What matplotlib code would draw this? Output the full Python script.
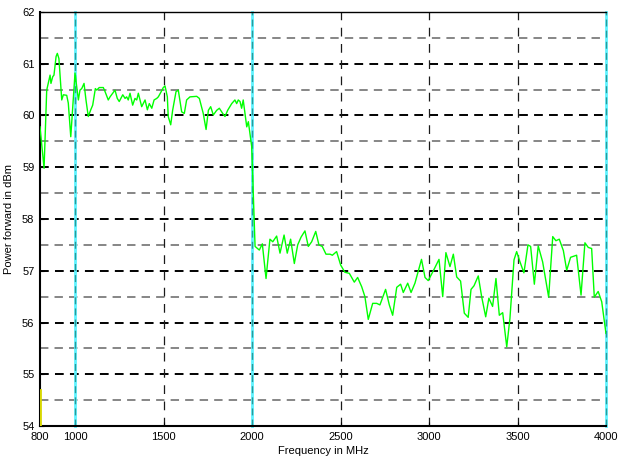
import numpy as np
import matplotlib
matplotlib.use("Agg")
import matplotlib.pyplot as plt

plt.rcParams.update({"font.family": ["Liberation Sans Narrow", "Liberation Sans", "DejaVu Sans"], "font.size": 8})

# measured trace (frequency in MHz, power in dBm)
freq = [800, 823, 838, 857, 862, 872, 879, 891, 898, 907, 923, 932, 951, 960, 974, 983,
        998, 1017, 1026, 1036, 1049, 1060, 1073, 1087, 1098, 1113, 1121, 1135, 1158, 1168,
        1186, 1196, 1224, 1237, 1248, 1268, 1281, 1290, 1299, 1309, 1324, 1337, 1347, 1356,
        1375, 1384, 1394, 1407, 1418, 1432, 1445, 1460, 1469, 1482, 1497, 1507, 1520, 1525,
        1539, 1550, 1569, 1582, 1592, 1601, 1616, 1629, 1648, 1686, 1701, 1723, 1739, 1752,
        1765, 1780, 1799, 1814, 1833, 1846, 1861, 1884, 1902, 1912, 1921, 1931, 1940, 1949,
        1959, 1969, 1978, 1987, 1997, 2016, 2040, 2057, 2078, 2100, 2116, 2138, 2157, 2180,
        2198, 2217, 2238, 2257, 2276, 2298, 2317, 2336, 2359, 2377, 2396, 2417, 2440, 2453,
        2477, 2500, 2524, 2549, 2577, 2596, 2619, 2637, 2656, 2681, 2704, 2722, 2754, 2775,
        2794, 2817, 2839, 2854, 2879, 2898, 2920, 2957, 2977, 2995, 3024, 3056, 3077, 3095,
        3118, 3137, 3156, 3178, 3199, 3221, 3237, 3254, 3278, 3297, 3320, 3338, 3359, 3378,
        3397, 3416, 3439, 3457, 3480, 3495, 3514, 3536, 3559, 3574, 3595, 3617, 3642, 3676,
        3699, 3717, 3736, 3759, 3778, 3800, 3834, 3859, 3881, 3900, 3919, 3934, 3956, 3976,
        4000]
power = [59.78, 58.98, 60.49, 60.78, 60.62, 60.75, 60.78, 61.14, 61.20, 61.10, 60.30, 60.40,
         60.39, 60.24, 59.59, 60.04, 60.82, 60.30, 60.49, 60.52, 60.62, 60.30, 59.98, 60.11,
         60.20, 60.52, 60.49, 60.54, 60.54, 60.46, 60.30, 60.36, 60.49, 60.33, 60.27, 60.40,
         60.33, 60.36, 60.30, 60.43, 60.20, 60.33, 60.30, 60.43, 60.17, 60.23, 60.30, 60.11,
         60.23, 60.14, 60.30, 60.33, 60.36, 60.44, 60.54, 60.57, 60.36, 59.98, 59.82, 60.10,
         60.46, 60.49, 60.27, 60.07, 60.04, 60.30, 60.36, 60.37, 60.33, 60.04, 59.73, 60.10,
         60.17, 60.01, 60.10, 60.14, 60.04, 59.98, 60.10, 60.23, 60.30, 60.23, 60.30, 60.27,
         60.14, 60.30, 60.04, 59.78, 59.88, 59.65, 59.40, 57.47, 57.40, 57.52, 56.85, 57.61,
         57.56, 57.67, 57.34, 57.69, 57.34, 57.61, 57.14, 57.50, 57.65, 57.77, 57.47, 57.56,
         57.76, 57.50, 57.47, 57.32, 57.32, 57.30, 57.37, 57.11, 56.97, 56.95, 56.78, 56.87,
         56.69, 56.50, 56.06, 56.37, 56.37, 56.34, 56.64, 56.34, 56.14, 56.68, 56.74, 56.58,
         56.76, 56.58, 56.76, 57.22, 56.87, 56.81, 57.00, 57.22, 56.50, 57.35, 57.08, 57.32,
         56.88, 56.80, 56.18, 56.10, 56.64, 56.71, 56.90, 56.50, 56.11, 56.47, 56.31, 56.85,
         56.14, 56.19, 55.53, 56.08, 57.21, 57.37, 57.17, 56.96, 57.50, 57.47, 56.74, 57.48,
         57.17, 56.49, 57.66, 57.58, 57.61, 57.39, 57.01, 57.26, 57.30, 56.53, 57.54, 57.45,
         57.43, 56.49, 56.60, 56.40, 55.79]

# short yellow trace at the start frequency
yellow_freq = [800, 800]
yellow_power = [54.0, 54.7]

band_edges = [1000, 2000, 4000]
black_vlines = [1500, 2500, 3000, 3500]

fig = plt.figure(figsize=(6.21, 4.61), dpi=100)
ax = fig.add_axes([0.0644, 0.0759, 0.9114, 0.8981])

for y in np.arange(54.5, 62, 0.5):
    if y == int(y):
        ax.axhline(y, color="k", lw=1.4, dashes=(4.5, 3.2), zorder=1)
    else:
        ax.axhline(y, color="0.4", lw=1.1, dashes=(5.5, 4), zorder=1)

for x in black_vlines:
    ax.axvline(x, color="0.1", lw=0.9, dashes=(7, 6), zorder=1)

for x in band_edges:
    ax.axvline(x, color="#5ff3ff", lw=2.0, zorder=2, clip_on=False)
    ax.axvline(x, color="#2a9a9a", lw=1.0, dashes=(5, 3), zorder=2, clip_on=False)

ax.plot(freq, power, color="#00ff00", lw=1.0, zorder=3)
ax.plot(yellow_freq, yellow_power, color="#d8d800", lw=2, zorder=4)

ax.set_xlim(800, 4000)
ax.set_ylim(54, 62)
ax.set_xticks([800, 1000, 1500, 2000, 2500, 3000, 3500, 4000])
ax.set_yticks(range(54, 63))
ax.tick_params(direction="in", length=3, width=0.8, labelsize=8, pad=4)
for s in ["left", "bottom"]:
    ax.spines[s].set_linewidth(1.5)
ax.spines["top"].set_linewidth(1.0)
ax.spines["right"].set_visible(False)

ax.set_xlabel("Frequency in MHz", fontsize=8, labelpad=3)
ax.set_ylabel("Power forward in dBm", fontsize=8, labelpad=6)

fig.savefig("out.png", dpi=100)
